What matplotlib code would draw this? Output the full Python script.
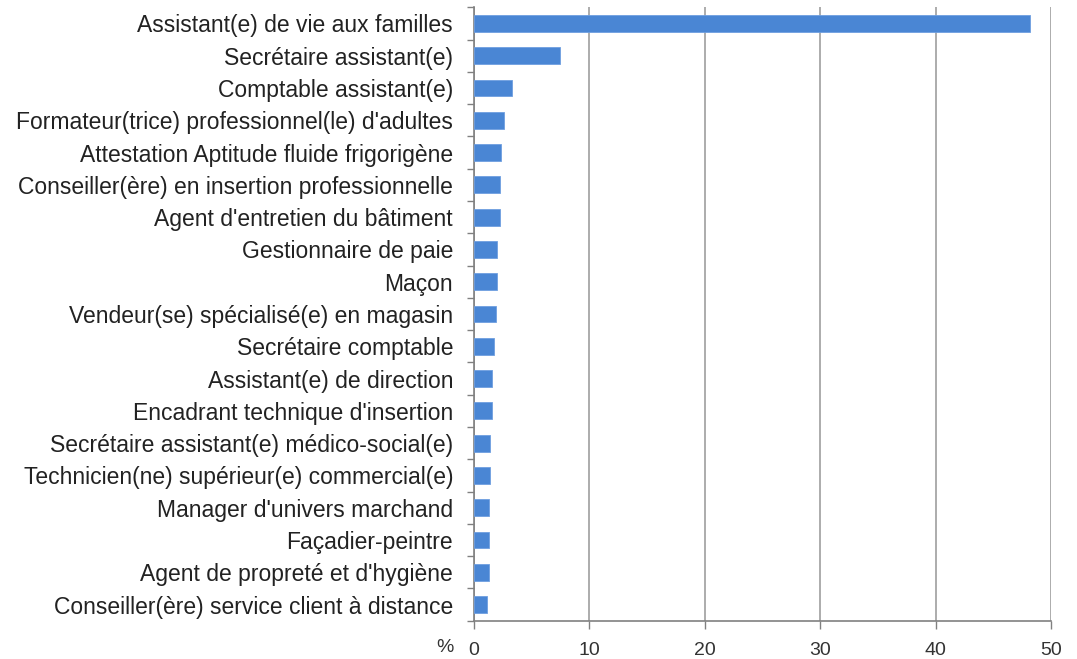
import matplotlib
matplotlib.use("Agg")
import matplotlib.pyplot as plt
from matplotlib.ticker import FixedLocator

# Formations, in the order they appear from top to bottom
labels = [
    "Assistant(e) de vie aux familles",
    "Secrétaire assistant(e)",
    "Comptable assistant(e)",
    "Formateur(trice) professionnel(le) d'adultes",
    "Attestation Aptitude fluide frigorigène",
    "Conseiller(ère) en insertion professionnelle",
    "Agent d'entretien du bâtiment",
    "Gestionnaire de paie",
    "Maçon",
    "Vendeur(se) spécialisé(e) en magasin",
    "Secrétaire comptable",
    "Assistant(e) de direction",
    "Encadrant technique d'insertion",
    "Secrétaire assistant(e) médico-social(e)",
    "Technicien(ne) supérieur(e) commercial(e)",
    "Manager d'univers marchand",
    "Façadier-peintre",
    "Agent de propreté et d'hygiène",
    "Conseiller(ère) service client à distance",
]
# share in %
values = [48.2, 7.5, 3.3, 2.6, 2.35, 2.25, 2.25, 2.0, 2.0, 1.9,
          1.75, 1.6, 1.6, 1.4, 1.4, 1.3, 1.3, 1.3, 1.15]
xticks = [0, 10, 20, 30, 40, 50]

plt.rcParams['font.family'] = ['Liberation Sans', 'DejaVu Sans']

fig = plt.figure(figsize=(10.77, 6.59), dpi=100)
ax = fig.add_axes([0.44, 0.058, 0.536, 0.931])

pos = list(range(len(labels)))
ax.barh(pos, values, height=0.52, color='#4a86d4', edgecolor='#6f9fe0', linewidth=0.6, zorder=3)

ax.set_xlim(0, 50)
ax.set_ylim(len(labels) - 0.5, -0.5)

ax.set_xticks(xticks)
ax.set_xticklabels([str(t) for t in xticks], fontsize=14, color='#333333')
ax.set_yticks(pos)
ax.set_yticklabels(labels, fontsize=16.5, color='#222222')
ax.yaxis.set_minor_locator(FixedLocator([p - 0.5 for p in pos] + [len(labels) - 0.5]))

ax.tick_params(axis='y', which='major', length=0, pad=15)
ax.tick_params(axis='y', which='minor', length=5, color='#808080', width=1)
ax.tick_params(axis='x', which='major', length=6, color='#808080', width=1, pad=9)

ax.grid(axis='x', color='#a6a6a6', linewidth=1.3, zorder=0)
for s in ['top', 'right']:
    ax.spines[s].set_visible(False)
for s in ['left', 'bottom']:
    ax.spines[s].set_color('#808080')
    ax.spines[s].set_linewidth(1.2)

fig.text(445 / 1077, 1 - 648 / 659, "%", fontsize=14,
         color='#333333', ha='center', va='center')

fig.savefig("out.png", dpi=100, facecolor='white')
